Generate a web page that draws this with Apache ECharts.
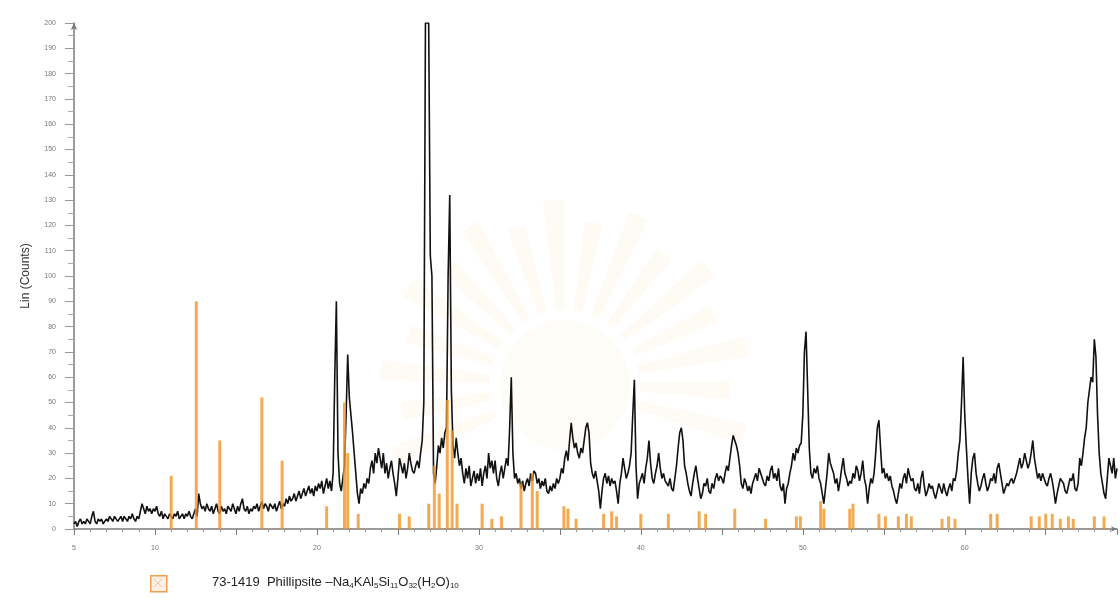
<!DOCTYPE html>
<html>
<head>
<meta charset="utf-8">
<script src="https://cdn.jsdelivr.net/npm/echarts@6/dist/echarts.min.js"></script>
<style>html,body{margin:0;padding:0;background:#fff;}#chart{width:1120px;height:608px;}</style>
</head>
<body>
<div id="chart"></div>
<script>
// ---- Data ----
// Measured pattern: 2-theta sampled from 5.0 in steps of 0.1 degree
const scanStart = 5.0;
const scanStep = 0.1;
const counts = [
  2,3,1,3,4,2,3,2,4,3,          // 5
  2,5,7,3,2,4,3,4,2,3,          // 6
  4,3,5,4,3,5,4,3,4,5,          // 7
  3,5,4,3,5,4,6,4,3,5,          // 8
  4,7,10,8,6,9,7,8,6,8,         // 9
  7,9,6,5,7,4,6,5,4,6,          // 10
  5,4,6,5,7,4,5,6,4,6,          // 11
  5,7,5,4,6,8,5,14,10,8,        // 12
  9,7,10,8,7,9,6,8,10,7,        // 13
  6,9,7,8,6,9,8,7,10,8,         // 14
  6,9,7,10,12,8,7,9,6,8,        // 15
  7,9,8,10,7,9,11,8,10,9,       // 16
  7,10,9,8,10,7,9,11,8,10,      // 17
  9,12,10,13,11,12,14,11,13,15, // 18
  12,14,16,13,15,17,14,16,13,17,// 19
  15,18,16,19,14,17,20,16,19,15,// 20
  22,60,90,30,18,15,20,25,45,69,// 21
  52,45,38,30,22,14,10,16,14,18,// 22
  16,20,18,24,27,22,30,26,32,28,// 23
  24,30,22,26,20,24,27,22,18,13,// 24
  20,28,25,22,26,20,24,30,26,23,// 25
  22,25,27,24,30,35,50,200,200,200, // 26
  108,100,22,18,25,33,30,36,32,38,  // 27
  40,100,132,55,33,28,36,30,25,28,  // 28
  22,18,24,20,25,17,20,23,18,22,// 29
  19,24,17,22,25,20,30,24,27,22,// 30
  27,20,17,22,25,20,24,28,25,40,// 31
  60,30,20,22,18,20,16,19,15,18,// 32
  20,17,22,19,23,22,18,20,16,19,// 33
  17,20,15,14,17,15,18,16,20,18,// 34
  20,24,22,28,31,27,35,42,36,32,// 35
  34,30,28,32,30,35,40,42,38,26,// 36
  22,20,23,19,15,8,15,20,22,18, // 37
  21,17,20,18,19,15,10,18,22,28,// 38
  24,20,22,25,30,45,59,25,12,18,// 39
  20,22,18,24,28,35,26,20,18,22,// 40
  25,30,24,20,22,19,18,17,20,16,// 41
  15,20,25,32,38,40,35,25,22,18,// 42
  15,13,18,22,25,20,16,12,14,18,// 43
  17,20,15,14,18,16,20,22,19,21,// 44
  20,18,22,25,23,28,33,37,35,33,// 45
  30,25,18,16,20,18,15,17,14,18,// 46
  20,22,19,24,22,20,18,17,21,19,// 47
  23,25,20,22,19,24,17,15,18,10,// 48
  16,18,22,25,30,27,32,30,33,34,// 49
  45,70,78,55,32,22,20,24,22,25,// 50
  20,18,14,10,16,22,30,26,24,22,// 51
  18,20,15,19,24,28,22,20,17,19,// 52
  18,22,20,25,23,19,22,27,20,17,// 53
  10,16,20,18,22,30,40,43,32,22,// 54
  24,20,22,19,21,17,15,12,10,14,// 55
  18,16,20,22,18,24,21,19,20,16,// 56
  15,18,14,20,23,17,13,15,18,16,// 57
  17,14,12,15,18,16,14,18,15,13,// 58
  16,18,15,20,19,23,30,35,50,68,// 59
  45,32,20,10,22,28,30,22,18,15,// 60
  17,20,22,18,15,17,20,19,22,18,// 61
  24,26,22,18,14,16,18,17,19,20,// 62
  18,20,22,25,28,24,26,30,27,24,// 63
  26,30,35,28,24,20,22,19,22,20,// 64
  18,17,20,22,19,15,10,14,17,20,// 65
  20,18,15,14,17,20,19,22,16,15,// 66
  18,28,25,30,36,40,50,55,60,58,// 67
  75,68,45,30,22,18,14,12,20,28,// 68
  25,22,28,20,24                // 69
];

// Reference pattern 73-1419 Phillipsite (stick positions and heights)
const stickPos = [11.0,12.55,14.0,16.6,17.85,20.6,21.7,21.9,22.55,25.1,25.7,26.9,27.25,27.55,28.05,28.35,28.65,
  30.2,30.8,31.4,32.6,33.3,33.6,35.25,35.5,36.0,37.7,38.2,38.5,40.0,41.7,43.6,44.0,45.8,47.7,49.6,49.85,
  51.1,51.3,52.9,53.1,54.7,55.1,55.9,56.4,56.7,58.6,59.0,59.4,61.6,62.0,64.1,64.6,65.0,65.4,65.9,66.4,66.7,68.0,68.6];
const stickInt = [21,90,35,52,27,9,50,30,6,6,5,10,25,14,51,39,10,
  10,4,5,18,22,15,9,8,4,6,7,5,6,6,7,6,8,4,5,5,
  11,8,8,10,6,5,5,6,5,4,5,4,6,6,5,5,6,6,4,5,4,5,5];

const yLabel = 'Lin (Counts)';
const legendName = '73-1419  Phillipsite -Na4KAl5Si11O32(H2O)10';
// legend text split into normal / subscript parts
const legendParts = [['n','73-1419  Phillipsite \u2013Na'],['s','4'],['n','KAl'],['s','5'],['n','Si'],['s','11'],
  ['n','O'],['s','32'],['n','(H'],['s','2'],['n','O)'],['s','10']];

// ---- Build ----
const lineData = counts.map((v, i) => [+(scanStart + i * scanStep).toFixed(2), v]);
const stickData = stickPos.map((x, i) => [x, stickInt[i]]);
const legendRich = legendParts.map(p => '{' + p[0] + '|' + p[1] + '}').join('');

// very faint background watermark (sun-ray fan)
const wm = [];
const cx = 565, cy = 385;
for (let k = 0; k < 17; k++) {
  const a0 = -Math.PI - 0.45 + k * ((Math.PI + 0.9) / 17);
  wm.push({type: 'sector', z: 0, silent: true,
    shape: {cx: cx, cy: cy, r0: 75, r: 185 - (k % 2) * 20, startAngle: a0, endAngle: a0 + 0.11},
    style: {fill: 'rgba(248,215,140,0.09)'}});
}
wm.push({type: 'circle', z: 0, silent: true, shape: {cx: cx, cy: cy, r: 65}, style: {fill: 'rgba(248,220,150,0.08)'}});

const chart = echarts.init(document.getElementById('chart'), null, {renderer: 'canvas'});
const axisColor = '#7a7a7a';
const font = 'Arial, Liberation Sans, sans-serif';
chart.setOption({
  animation: false,
  backgroundColor: '#ffffff',
  grid: {left: 74, top: 23, right: 0, bottom: 79, containLabel: false},
  xAxis: {
    type: 'value', min: 5, max: 69.4, interval: 5,
    axisLine: {show: true, lineStyle: {color: axisColor, width: 1.5}, symbol: ['none', 'arrow'], symbolSize: [4, 6]},
    axisTick: {show: true, length: 6, lineStyle: {color: axisColor}},
    minorTick: {show: true, splitNumber: 5, length: 3, lineStyle: {color: '#999'}},
    splitLine: {show: false},
    axisLabel: {
      fontSize: 7, color: '#777', margin: 16, fontFamily: font,
      formatter: v => (v === 5 || v % 10 === 0) ? String(v) : ''
    }
  },
  yAxis: {
    type: 'value', min: 0, max: 200, interval: 10,
    name: yLabel, nameLocation: 'middle', nameGap: 42, nameRotate: 90,
    nameTextStyle: {fontSize: 12, color: '#333', fontFamily: font},
    axisLine: {show: true, lineStyle: {color: axisColor, width: 1.5}, symbol: ['none', 'arrow'], symbolSize: [5, 7]},
    axisTick: {show: true, length: 9, lineStyle: {color: '#999'}},
    minorTick: {show: true, splitNumber: 2, length: 6, lineStyle: {color: '#aaa'}},
    splitLine: {show: false},
    axisLabel: {fontSize: 7, color: '#777', margin: 18, fontFamily: font}
  },
  series: [
    {
      name: 'Sample', type: 'line', data: lineData, showSymbol: false, symbol: 'none',
      lineStyle: {color: '#111', width: 1.6}, z: 3, clip: true
    },
    {
      name: legendName, type: 'bar', data: stickData, barWidth: 3,
      itemStyle: {color: 'rgba(240,150,40,0.8)'}, z: 4
    }
  ],
  graphic: wm.concat([
    {type: 'rect', left: 150, top: 575, z: 10, shape: {width: 16, height: 16},
      style: {fill: '#fdf0e2', stroke: '#f0a050', lineWidth: 1.5}},
    {type: 'line', z: 10, shape: {x1: 154, y1: 579, x2: 162, y2: 587}, style: {stroke: '#e6c6a6', lineWidth: 1}},
    {type: 'line', z: 10, shape: {x1: 162, y1: 579, x2: 154, y2: 587}, style: {stroke: '#e6c6a6', lineWidth: 1}},
    {type: 'text', left: 212, top: 576, z: 10,
      style: {text: legendRich, fill: '#222', font: '13px ' + font,
        rich: {
          n: {fontSize: 13, lineHeight: 15, fontFamily: font, fill: '#222', verticalAlign: 'middle'},
          s: {fontSize: 8, lineHeight: 8, fontFamily: font, fill: '#222', verticalAlign: 'bottom'}
        }}}
  ])
});
</script>
</body>
</html>
